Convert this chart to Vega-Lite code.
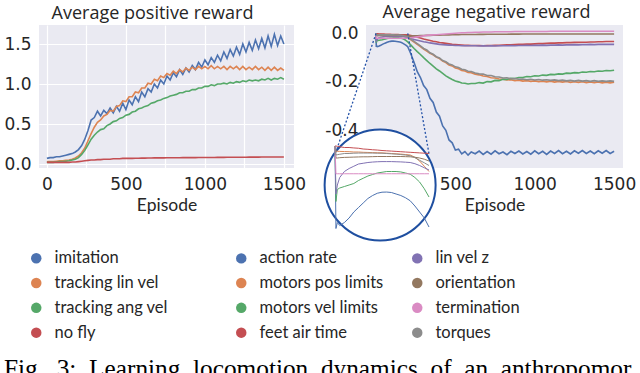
{
  "$schema": "https://vega.github.io/schema/vega-lite/v6.json",
  "padding": {"left": 3, "top": 4, "right": 0, "bottom": 0},
  "title": {"text": "Fig. \u00a03: \u00a0Learning \u00a0locomotion \u00a0dynamics \u00a0of \u00a0an \u00a0anthropomor", "orient": "bottom", "anchor": "start", "frame": "group", "font": "Liberation Serif", "fontSize": 25.3, "fontWeight": "normal", "color": "#000000", "offset": 15, "dx": -35},
  "datasets": {
    "pos": [
      {"x":0,"imitation":0.07,"tracking lin vel":0.03,"tracking ang vel":0.02,"no fly":0.02},
      {"x":20,"imitation":0.08,"tracking lin vel":0.03,"tracking ang vel":0.02,"no fly":0.02},
      {"x":40,"imitation":0.08,"tracking lin vel":0.03,"tracking ang vel":0.02,"no fly":0.02},
      {"x":60,"imitation":0.09,"tracking lin vel":0.035,"tracking ang vel":0.025,"no fly":0.02},
      {"x":80,"imitation":0.09,"tracking lin vel":0.04,"tracking ang vel":0.03,"no fly":0.02},
      {"x":100,"imitation":0.10,"tracking lin vel":0.04,"tracking ang vel":0.03,"no fly":0.02},
      {"x":120,"imitation":0.11,"tracking lin vel":0.045,"tracking ang vel":0.035,"no fly":0.02},
      {"x":140,"imitation":0.12,"tracking lin vel":0.05,"tracking ang vel":0.04,"no fly":0.02},
      {"x":160,"imitation":0.13,"tracking lin vel":0.06,"tracking ang vel":0.05,"no fly":0.025},
      {"x":180,"imitation":0.15,"tracking lin vel":0.075,"tracking ang vel":0.06,"no fly":0.025},
      {"x":200,"imitation":0.18,"tracking lin vel":0.10,"tracking ang vel":0.08,"no fly":0.03},
      {"x":220,"imitation":0.23,"tracking lin vel":0.14,"tracking ang vel":0.12,"no fly":0.035},
      {"x":240,"imitation":0.31,"tracking lin vel":0.20,"tracking ang vel":0.17,"no fly":0.04},
      {"x":260,"imitation":0.42,"tracking lin vel":0.29,"tracking ang vel":0.24,"no fly":0.045},
      {"x":280,"imitation":0.55,"tracking lin vel":0.38,"tracking ang vel":0.31,"no fly":0.05},
      {"x":300,"imitation":0.58,"tracking lin vel":0.46,"tracking ang vel":0.36,"no fly":0.05},
      {"x":320,"imitation":0.66,"tracking lin vel":0.52,"tracking ang vel":0.40,"no fly":0.055},
      {"x":340,"imitation":0.60,"tracking lin vel":0.55,"tracking ang vel":0.43,"no fly":0.055},
      {"x":360,"imitation":0.67,"tracking lin vel":0.60,"tracking ang vel":0.44,"no fly":0.06},
      {"x":380,"imitation":0.63,"tracking lin vel":0.62,"tracking ang vel":0.48,"no fly":0.06},
      {"x":400,"imitation":0.70,"tracking lin vel":0.67,"tracking ang vel":0.50,"no fly":0.06},
      {"x":420,"imitation":0.64,"tracking lin vel":0.66,"tracking ang vel":0.53,"no fly":0.065},
      {"x":440,"imitation":0.72,"tracking lin vel":0.72,"tracking ang vel":0.54,"no fly":0.065},
      {"x":460,"imitation":0.66,"tracking lin vel":0.73,"tracking ang vel":0.57,"no fly":0.065},
      {"x":480,"imitation":0.76,"tracking lin vel":0.79,"tracking ang vel":0.58,"no fly":0.07},
      {"x":500,"imitation":0.68,"tracking lin vel":0.78,"tracking ang vel":0.61,"no fly":0.07},
      {"x":520,"imitation":0.80,"tracking lin vel":0.84,"tracking ang vel":0.62,"no fly":0.07},
      {"x":540,"imitation":0.74,"tracking lin vel":0.84,"tracking ang vel":0.65,"no fly":0.07},
      {"x":560,"imitation":0.84,"tracking lin vel":0.90,"tracking ang vel":0.66,"no fly":0.072},
      {"x":580,"imitation":0.78,"tracking lin vel":0.89,"tracking ang vel":0.69,"no fly":0.072},
      {"x":600,"imitation":0.90,"tracking lin vel":0.95,"tracking ang vel":0.70,"no fly":0.074},
      {"x":620,"imitation":0.84,"tracking lin vel":0.95,"tracking ang vel":0.72,"no fly":0.074},
      {"x":640,"imitation":0.94,"tracking lin vel":1.01,"tracking ang vel":0.73,"no fly":0.075},
      {"x":660,"imitation":0.90,"tracking lin vel":1.00,"tracking ang vel":0.76,"no fly":0.075},
      {"x":680,"imitation":1.00,"tracking lin vel":1.06,"tracking ang vel":0.77,"no fly":0.076},
      {"x":700,"imitation":0.95,"tracking lin vel":1.04,"tracking ang vel":0.79,"no fly":0.076},
      {"x":720,"imitation":1.05,"tracking lin vel":1.10,"tracking ang vel":0.80,"no fly":0.077},
      {"x":740,"imitation":1.00,"tracking lin vel":1.08,"tracking ang vel":0.82,"no fly":0.077},
      {"x":760,"imitation":1.10,"tracking lin vel":1.13,"tracking ang vel":0.83,"no fly":0.078},
      {"x":780,"imitation":1.05,"tracking lin vel":1.11,"tracking ang vel":0.85,"no fly":0.078},
      {"x":800,"imitation":1.14,"tracking lin vel":1.16,"tracking ang vel":0.86,"no fly":0.078},
      {"x":820,"imitation":1.09,"tracking lin vel":1.13,"tracking ang vel":0.87,"no fly":0.079},
      {"x":840,"imitation":1.18,"tracking lin vel":1.18,"tracking ang vel":0.89,"no fly":0.079},
      {"x":860,"imitation":1.12,"tracking lin vel":1.15,"tracking ang vel":0.89,"no fly":0.08},
      {"x":880,"imitation":1.20,"tracking lin vel":1.20,"tracking ang vel":0.91,"no fly":0.08},
      {"x":900,"imitation":1.15,"tracking lin vel":1.17,"tracking ang vel":0.91,"no fly":0.08},
      {"x":920,"imitation":1.23,"tracking lin vel":1.21,"tracking ang vel":0.93,"no fly":0.08},
      {"x":940,"imitation":1.18,"tracking lin vel":1.18,"tracking ang vel":0.93,"no fly":0.08},
      {"x":960,"imitation":1.27,"tracking lin vel":1.22,"tracking ang vel":0.95,"no fly":0.081},
      {"x":980,"imitation":1.21,"tracking lin vel":1.19,"tracking ang vel":0.95,"no fly":0.081},
      {"x":1000,"imitation":1.30,"tracking lin vel":1.22,"tracking ang vel":0.97,"no fly":0.081},
      {"x":1020,"imitation":1.24,"tracking lin vel":1.19,"tracking ang vel":0.97,"no fly":0.082},
      {"x":1040,"imitation":1.33,"tracking lin vel":1.23,"tracking ang vel":0.99,"no fly":0.082},
      {"x":1060,"imitation":1.27,"tracking lin vel":1.19,"tracking ang vel":0.98,"no fly":0.082},
      {"x":1080,"imitation":1.36,"tracking lin vel":1.22,"tracking ang vel":1.00,"no fly":0.083},
      {"x":1100,"imitation":1.29,"tracking lin vel":1.19,"tracking ang vel":1.00,"no fly":0.083},
      {"x":1120,"imitation":1.40,"tracking lin vel":1.22,"tracking ang vel":1.01,"no fly":0.083},
      {"x":1140,"imitation":1.32,"tracking lin vel":1.18,"tracking ang vel":1.00,"no fly":0.084},
      {"x":1160,"imitation":1.43,"tracking lin vel":1.22,"tracking ang vel":1.02,"no fly":0.084},
      {"x":1180,"imitation":1.35,"tracking lin vel":1.19,"tracking ang vel":1.01,"no fly":0.084},
      {"x":1200,"imitation":1.46,"tracking lin vel":1.22,"tracking ang vel":1.03,"no fly":0.085},
      {"x":1220,"imitation":1.37,"tracking lin vel":1.18,"tracking ang vel":1.02,"no fly":0.085},
      {"x":1240,"imitation":1.50,"tracking lin vel":1.22,"tracking ang vel":1.04,"no fly":0.085},
      {"x":1260,"imitation":1.40,"tracking lin vel":1.18,"tracking ang vel":1.03,"no fly":0.085},
      {"x":1280,"imitation":1.52,"tracking lin vel":1.21,"tracking ang vel":1.05,"no fly":0.086},
      {"x":1300,"imitation":1.42,"tracking lin vel":1.18,"tracking ang vel":1.04,"no fly":0.086},
      {"x":1320,"imitation":1.55,"tracking lin vel":1.22,"tracking ang vel":1.05,"no fly":0.086},
      {"x":1340,"imitation":1.44,"tracking lin vel":1.18,"tracking ang vel":1.04,"no fly":0.086},
      {"x":1360,"imitation":1.57,"tracking lin vel":1.21,"tracking ang vel":1.06,"no fly":0.087},
      {"x":1380,"imitation":1.45,"tracking lin vel":1.17,"tracking ang vel":1.05,"no fly":0.087},
      {"x":1400,"imitation":1.60,"tracking lin vel":1.21,"tracking ang vel":1.07,"no fly":0.087},
      {"x":1420,"imitation":1.47,"tracking lin vel":1.17,"tracking ang vel":1.05,"no fly":0.087},
      {"x":1440,"imitation":1.62,"tracking lin vel":1.21,"tracking ang vel":1.07,"no fly":0.087},
      {"x":1460,"imitation":1.48,"tracking lin vel":1.17,"tracking ang vel":1.06,"no fly":0.088},
      {"x":1480,"imitation":1.60,"tracking lin vel":1.20,"tracking ang vel":1.08,"no fly":0.088},
      {"x":1500,"imitation":1.50,"tracking lin vel":1.17,"tracking ang vel":1.06,"no fly":0.088}
    ],
    "neg": [
      {"x":0,"action rate":-0.001,"motors pos limits":-0.001,"motors vel limits":-0.001,"feet air time":-0.001,"lin vel z":-0.001,"orientation":-0.001,"termination":-0.001,"torques":-0.001},
      {"x":2,"action rate":-0.056,"motors pos limits":-0.0045,"motors vel limits":-0.038,"feet air time":-0.001,"lin vel z":-0.033,"orientation":-0.009,"termination":-0.0195,"torques":-0.007},
      {"x":5,"action rate":-0.052,"motors pos limits":-0.0045,"motors vel limits":-0.030,"feet air time":-0.0012,"lin vel z":-0.027,"orientation":-0.009,"termination":-0.0195,"torques":-0.0068},
      {"x":10,"action rate":-0.054,"motors pos limits":-0.0046,"motors vel limits":-0.029,"feet air time":-0.0015,"lin vel z":-0.022,"orientation":-0.0088,"termination":-0.0195,"torques":-0.0065},
      {"x":20,"action rate":-0.052,"motors pos limits":-0.0047,"motors vel limits":-0.028,"feet air time":-0.002,"lin vel z":-0.018,"orientation":-0.0086,"termination":-0.0195,"torques":-0.006},
      {"x":30,"action rate":-0.049,"motors pos limits":-0.0048,"motors vel limits":-0.027,"feet air time":-0.002,"lin vel z":-0.016,"orientation":-0.0085,"termination":-0.0195,"torques":-0.006},
      {"x":40,"action rate":-0.045,"motors pos limits":-0.005,"motors vel limits":-0.026,"feet air time":-0.0023,"lin vel z":-0.0145,"orientation":-0.0084,"termination":-0.0195,"torques":-0.0058},
      {"x":50,"action rate":-0.042,"motors pos limits":-0.005,"motors vel limits":-0.024,"feet air time":-0.0025,"lin vel z":-0.013,"orientation":-0.0083,"termination":-0.0195,"torques":-0.0057},
      {"x":60,"action rate":-0.039,"motors pos limits":-0.0052,"motors vel limits":-0.0225,"feet air time":-0.003,"lin vel z":-0.0125,"orientation":-0.0082,"termination":-0.0195,"torques":-0.0057},
      {"x":70,"action rate":-0.036,"motors pos limits":-0.0053,"motors vel limits":-0.021,"feet air time":-0.0032,"lin vel z":-0.012,"orientation":-0.0082,"termination":-0.0195,"torques":-0.0057},
      {"x":80,"action rate":-0.034,"motors pos limits":-0.0054,"motors vel limits":-0.020,"feet air time":-0.0035,"lin vel z":-0.0117,"orientation":-0.0081,"termination":-0.0195,"torques":-0.0057},
      {"x":90,"action rate":-0.0325,"motors pos limits":-0.0055,"motors vel limits":-0.019,"feet air time":-0.0037,"lin vel z":-0.0115,"orientation":-0.008,"termination":-0.0195,"torques":-0.0058},
      {"x":100,"action rate":-0.0318,"motors pos limits":-0.0056,"motors vel limits":-0.0185,"feet air time":-0.004,"lin vel z":-0.0114,"orientation":-0.008,"termination":-0.0195,"torques":-0.0058},
      {"x":110,"action rate":-0.0317,"motors pos limits":-0.0058,"motors vel limits":-0.018,"feet air time":-0.0042,"lin vel z":-0.0114,"orientation":-0.008,"termination":-0.0195,"torques":-0.006},
      {"x":120,"action rate":-0.032,"motors pos limits":-0.006,"motors vel limits":-0.018,"feet air time":-0.0044,"lin vel z":-0.0114,"orientation":-0.008,"termination":-0.0195,"torques":-0.0062},
      {"x":130,"action rate":-0.033,"motors pos limits":-0.0062,"motors vel limits":-0.018,"feet air time":-0.0046,"lin vel z":-0.0115,"orientation":-0.008,"termination":-0.0195,"torques":-0.0064},
      {"x":140,"action rate":-0.034,"motors pos limits":-0.0064,"motors vel limits":-0.0183,"feet air time":-0.0048,"lin vel z":-0.0116,"orientation":-0.008,"termination":-0.0195,"torques":-0.0067},
      {"x":150,"action rate":-0.0355,"motors pos limits":-0.0067,"motors vel limits":-0.019,"feet air time":-0.005,"lin vel z":-0.0118,"orientation":-0.0081,"termination":-0.0195,"torques":-0.007},
      {"x":160,"action rate":-0.0375,"motors pos limits":-0.007,"motors vel limits":-0.0198,"feet air time":-0.0052,"lin vel z":-0.012,"orientation":-0.0082,"termination":-0.0195,"torques":-0.0075},
      {"x":170,"action rate":-0.041,"motors pos limits":-0.0085,"motors vel limits":-0.022,"feet air time":-0.0054,"lin vel z":-0.0128,"orientation":-0.0085,"termination":-0.0195,"torques":-0.0088},
      {"x":180,"action rate":-0.045,"motors pos limits":-0.011,"motors vel limits":-0.025,"feet air time":-0.0056,"lin vel z":-0.014,"orientation":-0.009,"termination":-0.0195,"torques":-0.0105},
      {"x":190,"action rate":-0.049,"motors pos limits":-0.0145,"motors vel limits":-0.0295,"feet air time":-0.0058,"lin vel z":-0.0155,"orientation":-0.0098,"termination":-0.0195,"torques":-0.0122},
      {"x":200,"action rate":-0.055,"motors pos limits":-0.018,"motors vel limits":-0.035,"feet air time":-0.006,"lin vel z":-0.017,"orientation":-0.011,"termination":-0.0195,"torques":-0.014},
      {"x":220,"action rate":-0.085,"motors pos limits":-0.026,"motors vel limits":-0.048,"feet air time":-0.009,"lin vel z":-0.021,"orientation":-0.011,"termination":-0.018,"torques":-0.024},
      {"x":240,"action rate":-0.12,"motors pos limits":-0.036,"motors vel limits":-0.062,"feet air time":-0.012,"lin vel z":-0.025,"orientation":-0.010,"termination":-0.016,"torques":-0.033},
      {"x":260,"action rate":-0.158,"motors pos limits":-0.045,"motors vel limits":-0.075,"feet air time":-0.016,"lin vel z":-0.028,"orientation":-0.0095,"termination":-0.014,"torques":-0.042},
      {"x":280,"action rate":-0.182,"motors pos limits":-0.054,"motors vel limits":-0.087,"feet air time":-0.019,"lin vel z":-0.031,"orientation":-0.009,"termination":-0.012,"torques":-0.051},
      {"x":300,"action rate":-0.215,"motors pos limits":-0.065,"motors vel limits":-0.100,"feet air time":-0.023,"lin vel z":-0.034,"orientation":-0.0085,"termination":-0.010,"torques":-0.062},
      {"x":320,"action rate":-0.232,"motors pos limits":-0.073,"motors vel limits":-0.112,"feet air time":-0.026,"lin vel z":-0.036,"orientation":-0.008,"termination":-0.008,"torques":-0.068},
      {"x":340,"action rate":-0.268,"motors pos limits":-0.082,"motors vel limits":-0.124,"feet air time":-0.029,"lin vel z":-0.039,"orientation":-0.008,"termination":-0.007,"torques":-0.080},
      {"x":360,"action rate":-0.285,"motors pos limits":-0.088,"motors vel limits":-0.135,"feet air time":-0.032,"lin vel z":-0.041,"orientation":-0.0075,"termination":-0.006,"torques":-0.086},
      {"x":380,"action rate":-0.325,"motors pos limits":-0.098,"motors vel limits":-0.146,"feet air time":-0.034,"lin vel z":-0.043,"orientation":-0.007,"termination":-0.005,"torques":-0.096},
      {"x":400,"action rate":-0.342,"motors pos limits":-0.104,"motors vel limits":-0.155,"feet air time":-0.037,"lin vel z":-0.045,"orientation":-0.007,"termination":-0.004,"torques":-0.101},
      {"x":420,"action rate":-0.382,"motors pos limits":-0.114,"motors vel limits":-0.165,"feet air time":-0.039,"lin vel z":-0.046,"orientation":-0.0065,"termination":-0.003,"torques":-0.112},
      {"x":440,"action rate":-0.400,"motors pos limits":-0.120,"motors vel limits":-0.175,"feet air time":-0.041,"lin vel z":-0.047,"orientation":-0.006,"termination":-0.002,"torques":-0.117},
      {"x":460,"action rate":-0.440,"motors pos limits":-0.130,"motors vel limits":-0.183,"feet air time":-0.043,"lin vel z":-0.048,"orientation":-0.006,"termination":-0.001,"torques":-0.126},
      {"x":480,"action rate":-0.452,"motors pos limits":-0.134,"motors vel limits":-0.190,"feet air time":-0.045,"lin vel z":-0.049,"orientation":-0.0055,"termination":0.000,"torques":-0.130},
      {"x":500,"action rate":-0.482,"motors pos limits":-0.143,"motors vel limits":-0.196,"feet air time":-0.046,"lin vel z":-0.050,"orientation":-0.005,"termination":0.001,"torques":-0.138},
      {"x":520,"action rate":-0.478,"motors pos limits":-0.146,"motors vel limits":-0.200,"feet air time":-0.047,"lin vel z":-0.050,"orientation":-0.005,"termination":0.002,"torques":-0.141},
      {"x":540,"action rate":-0.498,"motors pos limits":-0.153,"motors vel limits":-0.205,"feet air time":-0.048,"lin vel z":-0.051,"orientation":-0.0045,"termination":0.003,"torques":-0.148},
      {"x":560,"action rate":-0.488,"motors pos limits":-0.155,"motors vel limits":-0.206,"feet air time":-0.049,"lin vel z":-0.051,"orientation":-0.0045,"termination":0.003,"torques":-0.150},
      {"x":580,"action rate":-0.503,"motors pos limits":-0.161,"motors vel limits":-0.209,"feet air time":-0.049,"lin vel z":-0.051,"orientation":-0.004,"termination":0.004,"torques":-0.156},
      {"x":600,"action rate":-0.490,"motors pos limits":-0.162,"motors vel limits":-0.207,"feet air time":-0.050,"lin vel z":-0.051,"orientation":-0.004,"termination":0.004,"torques":-0.157},
      {"x":625,"action rate":-0.497,"motors pos limits":-0.168,"motors vel limits":-0.207,"feet air time":-0.050,"lin vel z":-0.051,"orientation":-0.004,"termination":0.005,"torques":-0.163},
      {"x":650,"action rate":-0.486,"motors pos limits":-0.171,"motors vel limits":-0.203,"feet air time":-0.050,"lin vel z":-0.052,"orientation":-0.0038,"termination":0.005,"torques":-0.167},
      {"x":675,"action rate":-0.500,"motors pos limits":-0.176,"motors vel limits":-0.205,"feet air time":-0.051,"lin vel z":-0.051,"orientation":-0.0036,"termination":0.006,"torques":-0.168},
      {"x":700,"action rate":-0.488,"motors pos limits":-0.178,"motors vel limits":-0.199,"feet air time":-0.050,"lin vel z":-0.052,"orientation":-0.0035,"termination":0.006,"torques":-0.174},
      {"x":725,"action rate":-0.499,"motors pos limits":-0.183,"motors vel limits":-0.200,"feet air time":-0.050,"lin vel z":-0.051,"orientation":-0.0034,"termination":0.006,"torques":-0.174},
      {"x":750,"action rate":-0.485,"motors pos limits":-0.184,"motors vel limits":-0.194,"feet air time":-0.049,"lin vel z":-0.052,"orientation":-0.0032,"termination":0.007,"torques":-0.179},
      {"x":775,"action rate":-0.497,"motors pos limits":-0.188,"motors vel limits":-0.195,"feet air time":-0.049,"lin vel z":-0.051,"orientation":-0.0031,"termination":0.007,"torques":-0.180},
      {"x":800,"action rate":-0.490,"motors pos limits":-0.189,"motors vel limits":-0.189,"feet air time":-0.048,"lin vel z":-0.051,"orientation":-0.003,"termination":0.007,"torques":-0.184},
      {"x":825,"action rate":-0.501,"motors pos limits":-0.192,"motors vel limits":-0.190,"feet air time":-0.047,"lin vel z":-0.051,"orientation":-0.003,"termination":0.007,"torques":-0.183},
      {"x":850,"action rate":-0.487,"motors pos limits":-0.191,"motors vel limits":-0.185,"feet air time":-0.047,"lin vel z":-0.050,"orientation":-0.0028,"termination":0.007,"torques":-0.187},
      {"x":875,"action rate":-0.496,"motors pos limits":-0.195,"motors vel limits":-0.186,"feet air time":-0.046,"lin vel z":-0.051,"orientation":-0.0028,"termination":0.008,"torques":-0.186},
      {"x":900,"action rate":-0.486,"motors pos limits":-0.193,"motors vel limits":-0.182,"feet air time":-0.045,"lin vel z":-0.050,"orientation":-0.0026,"termination":0.008,"torques":-0.189},
      {"x":925,"action rate":-0.498,"motors pos limits":-0.197,"motors vel limits":-0.182,"feet air time":-0.045,"lin vel z":-0.050,"orientation":-0.0025,"termination":0.008,"torques":-0.188},
      {"x":950,"action rate":-0.488,"motors pos limits":-0.195,"motors vel limits":-0.178,"feet air time":-0.044,"lin vel z":-0.049,"orientation":-0.0024,"termination":0.008,"torques":-0.191},
      {"x":975,"action rate":-0.499,"motors pos limits":-0.198,"motors vel limits":-0.179,"feet air time":-0.044,"lin vel z":-0.050,"orientation":-0.0023,"termination":0.008,"torques":-0.189},
      {"x":1000,"action rate":-0.485,"motors pos limits":-0.196,"motors vel limits":-0.175,"feet air time":-0.043,"lin vel z":-0.049,"orientation":-0.0022,"termination":0.008,"torques":-0.192},
      {"x":1025,"action rate":-0.497,"motors pos limits":-0.199,"motors vel limits":-0.176,"feet air time":-0.042,"lin vel z":-0.049,"orientation":-0.0022,"termination":0.008,"torques":-0.190},
      {"x":1050,"action rate":-0.487,"motors pos limits":-0.197,"motors vel limits":-0.172,"feet air time":-0.042,"lin vel z":-0.048,"orientation":-0.0021,"termination":0.008,"torques":-0.193},
      {"x":1075,"action rate":-0.500,"motors pos limits":-0.200,"motors vel limits":-0.173,"feet air time":-0.041,"lin vel z":-0.049,"orientation":-0.002,"termination":0.008,"torques":-0.191},
      {"x":1100,"action rate":-0.486,"motors pos limits":-0.197,"motors vel limits":-0.169,"feet air time":-0.040,"lin vel z":-0.048,"orientation":-0.002,"termination":0.009,"torques":-0.194},
      {"x":1125,"action rate":-0.496,"motors pos limits":-0.201,"motors vel limits":-0.170,"feet air time":-0.040,"lin vel z":-0.048,"orientation":-0.002,"termination":0.009,"torques":-0.192},
      {"x":1150,"action rate":-0.484,"motors pos limits":-0.198,"motors vel limits":-0.167,"feet air time":-0.039,"lin vel z":-0.047,"orientation":-0.002,"termination":0.009,"torques":-0.195},
      {"x":1175,"action rate":-0.497,"motors pos limits":-0.201,"motors vel limits":-0.168,"feet air time":-0.039,"lin vel z":-0.048,"orientation":-0.002,"termination":0.009,"torques":-0.193},
      {"x":1200,"action rate":-0.487,"motors pos limits":-0.198,"motors vel limits":-0.164,"feet air time":-0.038,"lin vel z":-0.047,"orientation":-0.002,"termination":0.009,"torques":-0.196},
      {"x":1225,"action rate":-0.498,"motors pos limits":-0.202,"motors vel limits":-0.165,"feet air time":-0.038,"lin vel z":-0.047,"orientation":-0.002,"termination":0.009,"torques":-0.194},
      {"x":1250,"action rate":-0.485,"motors pos limits":-0.199,"motors vel limits":-0.162,"feet air time":-0.037,"lin vel z":-0.046,"orientation":-0.002,"termination":0.009,"torques":-0.197},
      {"x":1275,"action rate":-0.495,"motors pos limits":-0.202,"motors vel limits":-0.163,"feet air time":-0.037,"lin vel z":-0.047,"orientation":-0.002,"termination":0.009,"torques":-0.194},
      {"x":1300,"action rate":-0.484,"motors pos limits":-0.199,"motors vel limits":-0.159,"feet air time":-0.036,"lin vel z":-0.046,"orientation":-0.002,"termination":0.009,"torques":-0.197},
      {"x":1325,"action rate":-0.496,"motors pos limits":-0.203,"motors vel limits":-0.160,"feet air time":-0.036,"lin vel z":-0.046,"orientation":-0.002,"termination":0.009,"torques":-0.195},
      {"x":1350,"action rate":-0.486,"motors pos limits":-0.200,"motors vel limits":-0.157,"feet air time":-0.035,"lin vel z":-0.045,"orientation":-0.002,"termination":0.009,"torques":-0.198},
      {"x":1375,"action rate":-0.497,"motors pos limits":-0.203,"motors vel limits":-0.158,"feet air time":-0.035,"lin vel z":-0.046,"orientation":-0.002,"termination":0.009,"torques":-0.195},
      {"x":1400,"action rate":-0.485,"motors pos limits":-0.200,"motors vel limits":-0.155,"feet air time":-0.034,"lin vel z":-0.045,"orientation":-0.002,"termination":0.009,"torques":-0.198},
      {"x":1425,"action rate":-0.495,"motors pos limits":-0.204,"motors vel limits":-0.156,"feet air time":-0.034,"lin vel z":-0.045,"orientation":-0.002,"termination":0.009,"torques":-0.196},
      {"x":1450,"action rate":-0.484,"motors pos limits":-0.201,"motors vel limits":-0.153,"feet air time":-0.033,"lin vel z":-0.045,"orientation":-0.002,"termination":0.009,"torques":-0.198},
      {"x":1475,"action rate":-0.496,"motors pos limits":-0.204,"motors vel limits":-0.154,"feet air time":-0.033,"lin vel z":-0.045,"orientation":-0.002,"termination":0.009,"torques":-0.196},
      {"x":1500,"action rate":-0.487,"motors pos limits":-0.201,"motors vel limits":-0.152,"feet air time":-0.033,"lin vel z":-0.045,"orientation":-0.002,"termination":0.009,"torques":-0.198}
    ]
  },
  "hconcat": [
    {
      "width": 255,
      "height": 143,
      "title": {"text": "Average positive reward", "dx": -14},
      "data": {"name": "pos"},
      "transform": [{"fold": ["imitation", "tracking lin vel", "tracking ang vel", "no fly"], "as": ["s", "y"]}],
      "layer": [
        {
          "transform": [{"filter": "datum.y > 100"}],
          "mark": {"type": "point", "filled": true, "opacity": 1, "shape": "circle"},
          "encoding": {
            "x": {"field": "x", "type": "quantitative", "scale": {"domain": [-50, 1564], "nice": false, "zero": false}, "axis": {"values": [0, 250, 500, 750, 1000, 1250, 1500], "format": "d", "labelExpr": "datum.value % 500 === 0 ? datum.label : ''", "title": "Episode"}},
            "y": {"field": "y", "type": "quantitative", "scale": {"domain": [-0.05, 1.7375], "nice": false, "zero": false}, "axis": {"values": [0, 0.5, 1, 1.5], "format": ".1f", "title": null}},
            "fill": {"field": "s", "type": "nominal", "scale": {"domain": ["imitation", "tracking lin vel", "tracking ang vel", "no fly"], "range": ["#4c72b0", "#dd8452", "#55a868", "#c44e52"]}, "legend": {"title": null, "orient": "none", "legendX": -11, "legendY": 225, "columns": 1}}
          }
        },
        {
          "mark": {"type": "line", "strokeWidth": 1.6},
          "encoding": {
            "x": {"field": "x", "type": "quantitative"},
            "y": {"field": "y", "type": "quantitative"},
            "stroke": {"field": "s", "type": "nominal", "scale": {"domain": ["imitation", "tracking lin vel", "tracking ang vel", "no fly"], "range": ["#4c72b0", "#dd8452", "#55a868", "#c44e52"]}, "legend": null}
          }
        }
      ]
    },
    {
      "width": 257,
      "height": 143,
      "title": {"text": "Average negative reward", "dx": -8},
      "data": {"name": "neg"},
      "transform": [{"fold": ["action rate", "motors pos limits", "motors vel limits", "feet air time", "lin vel z", "orientation", "termination", "torques"], "as": ["s", "y"]}],
      "layer": [
        {
          "transform": [{"filter": "datum.y > 100"}],
          "mark": {"type": "point", "filled": true, "opacity": 1, "shape": "circle"},
          "encoding": {
            "x": {"field": "x", "type": "quantitative", "scale": {"domain": [-63, 1556], "nice": false, "zero": false}, "axis": null},
            "y": {"field": "y", "type": "quantitative", "scale": {"domain": [-0.556, 0.035], "nice": false, "zero": false}, "axis": null},
            "fill": {"field": "s", "type": "nominal", "scale": {"domain": ["action rate", "motors pos limits", "motors vel limits", "feet air time", "lin vel z", "orientation", "termination", "torques"], "range": ["#4c72b0", "#dd8452", "#55a868", "#c44e52", "#8172b3", "#937860", "#da8bc3", "#8c8c8c"]}, "legend": {"title": null, "orient": "none", "legendX": -133, "legendY": 225, "columns": 2, "columnPadding": 25}}
          }
        },
        {
          "mark": {"type": "line", "strokeWidth": 1.6},
          "encoding": {
            "x": {"field": "x", "type": "quantitative", "scale": {"domain": [-63, 1556], "nice": false, "zero": false}, "axis": {"values": [0, 250, 500, 750, 1000, 1250, 1500], "format": "d", "labelExpr": "datum.value % 500 === 0 ? datum.label : ''", "title": "Episode", "orient": "bottom"}},
            "y": {"field": "y", "type": "quantitative", "scale": {"domain": [-0.556, 0.035], "nice": false, "zero": false}, "axis": {"values": [-0.5, -0.4, -0.3, -0.2, -0.1, 0], "orient": "left", "labelExpr": "datum.value > -0.05 ? '0.0' : (datum.value > -0.25 && datum.value < -0.15) ? '-0.2' : (datum.value > -0.45 && datum.value < -0.35) ? '-0.4' : ''", "title": null}},
            "stroke": {"field": "s", "type": "nominal", "scale": {"domain": ["action rate", "motors pos limits", "motors vel limits", "feet air time", "lin vel z", "orientation", "termination", "torques"], "range": ["#4c72b0", "#dd8452", "#55a868", "#c44e52", "#8172b3", "#937860", "#da8bc3", "#8c8c8c"]}, "legend": null}
          }
        },
        {
          "data": {"values": [{"x": 0, "y": 0, "x2": -246, "y2": -0.477}, {"x": 200, "y": 0, "x2": 334, "y2": -0.498}]},
          "transform": [],
          "mark": {"type": "rule", "strokeDash": [2, 2], "color": "#2452a8", "strokeWidth": 1.3},
          "encoding": {
            "x": {"field": "x", "type": "quantitative", "scale": {"domain": [-63, 1556], "nice": false, "zero": false}, "axis": null},
            "y": {"field": "y", "type": "quantitative", "scale": {"domain": [-0.556, 0.035], "nice": false, "zero": false}, "axis": null},
            "x2": {"field": "x2"},
            "y2": {"field": "y2"}
          }
        },
        {
          "data": {"values": [{"x": 96, "y": -0.027}]},
          "transform": [],
          "mark": {"type": "point", "shape": "circle", "size": 12321, "fill": "#ffffff", "stroke": "#1f4fa0", "strokeWidth": 2, "opacity": 1, "fillOpacity": 1},
          "encoding": {
            "x": {"field": "x", "type": "quantitative", "scale": {"domain": [0, 200], "range": [-31, 63], "nice": false, "zero": false}, "axis": null},
            "y": {"field": "y", "type": "quantitative", "scale": {"domain": [-0.06, 0], "range": [209.5, 119.5], "nice": false, "zero": false}, "axis": null}
          }
        },
        {
          "transform": [{"filter": "datum.x <= 200"}],
          "mark": {"type": "line", "strokeWidth": 1},
          "encoding": {
            "x": {"field": "x", "type": "quantitative", "scale": {"domain": [0, 200], "range": [-31, 63], "nice": false, "zero": false}, "axis": null},
            "y": {"field": "y", "type": "quantitative", "scale": {"domain": [-0.06, 0], "range": [209.5, 119.5], "nice": false, "zero": false}, "axis": null},
            "stroke": {"field": "s", "type": "nominal", "legend": null}
          }
        }
      ],
      "resolve": {"scale": {"x": "independent", "y": "independent"}}
    }
  ],
  "spacing": 72,
  "bounds": "flush",
  "resolve": {"scale": {"stroke": "independent", "fill": "independent"}, "legend": {"fill": "independent"}},
  "config": {
    "font": "Lato",
    "view": {"fill": "#eaeaf2", "stroke": null},
    "axis": {"domain": false, "ticks": false, "gridColor": "#ffffff", "gridWidth": 1.2, "labelFont": "DejaVu Sans", "labelFontSize": 17, "labelColor": "#262626", "labelPadding": 8, "titleFont": "Lato", "titleFontSize": 17.5, "titleFontWeight": "normal", "titleColor": "#262626", "titlePadding": 4, "zindex": 0},
    "title": {"font": "Open Sans", "fontSize": 18, "fontWeight": "normal", "color": "#262626", "offset": 2},
    "legend": {"labelFont": "Lato", "labelFontSize": 16.5, "labelColor": "#262626", "symbolSize": 110, "symbolType": "circle", "symbolStrokeWidth": 0, "rowPadding": 7.8, "labelOffset": 10}
  }
}
